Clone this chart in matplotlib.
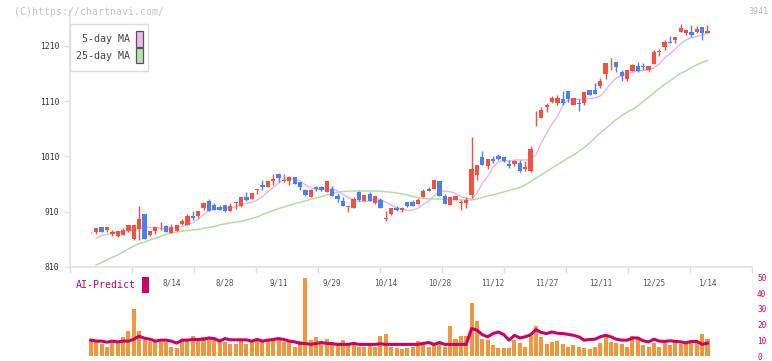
import numpy as np
import matplotlib
matplotlib.use("Agg")
import matplotlib.pyplot as plt
from matplotlib.patches import Rectangle

W, H = 772, 361

# daily candles
opens = [871, 874, 882, 877, 870, 866, 868, 875, 860, 878, 906, 867, 875, 882, 884, 872, 876, 887, 886, 902,
         902, 916, 929, 923, 919, 922, 912, 926, 921, 937, 933, 950, 958, 955, 966, 978, 966, 966, 973, 963,
         949, 936, 954, 954, 946, 951, 939, 930, 918, 917, 946, 930, 942, 926, 931, 897, 905, 916, 913, 927,
         927, 924, 936, 952, 952, 966, 939, 923, 931, 925, 926, 940, 977, 1009, 993, 1006, 1011, 1009, 997, 996,
         998, 987, 983, 1081, 1079, 1099, 1109, 1107, 1114, 1129, 1103, 1107, 1106, 1130, 1130, 1138, 1159, 1182, 1181, 1163,
         1151, 1165, 1174, 1174, 1167, 1178, 1199, 1208, 1217, 1220, 1236, 1234, 1236, 1235, 1244, 1233]
highs = [872.5, 880, 882, 882, 877, 875, 880, 886, 886, 920, 906, 875, 882, 891, 886, 888, 886, 896, 906, 911,
         911, 926, 933, 925, 922, 922, 926, 928, 937, 945, 944, 951, 967, 966, 978, 980, 978, 975, 973, 963,
         952, 951, 957, 957, 966, 957, 943, 936, 921, 937, 948, 940, 946, 939, 934, 911, 917, 920, 919, 927,
         931, 934, 951, 955, 968, 966, 942, 937, 939, 931, 936, 1046, 995, 1019, 1006, 1010, 1015, 1009, 1004, 1004,
         1004, 1001, 1029, 1093, 1100, 1106, 1120, 1121, 1129, 1129, 1115, 1114, 1127, 1130, 1143, 1152, 1180, 1189, 1181, 1167,
         1167, 1178, 1181, 1180, 1174, 1203, 1205, 1221, 1228, 1227, 1250, 1240, 1248, 1246, 1244, 1248]
lows = [871, 869, 874, 874, 866, 864, 868, 873, 858, 858, 860, 866, 870, 877, 873, 872, 875, 886, 886, 895,
        898, 913, 912, 913, 913, 910, 912, 915, 919, 930, 933, 942, 949, 955, 958, 964, 964, 958, 960, 949,
        939, 936, 948, 948, 946, 939, 928, 920, 910, 917, 930, 930, 929, 924, 917, 894, 904, 912, 910, 919,
        920, 924, 936, 948, 951, 939, 924, 923, 931, 913, 916, 934, 968, 994, 987, 999, 1004, 1000, 989, 992,
        981, 984, 982, 1066, 1079, 1091, 1106, 1103, 1103, 1109, 1103, 1093, 1103, 1121, 1123, 1134, 1150, 1167, 1162, 1147,
        1147, 1165, 1162, 1167, 1164, 1178, 1191, 1203, 1215, 1215, 1236, 1230, 1227, 1233, 1220, 1233]
closes = [872, 880, 874, 882, 874, 875, 877, 886, 886, 897, 861, 875, 882, 883, 873, 882, 886, 893, 902, 898,
          911, 926, 912, 913, 914, 912, 920, 927, 937, 931, 944, 951, 955, 966, 969, 971, 968, 973, 960, 955,
          940, 949, 951, 950, 966, 939, 933, 920, 920, 933, 931, 940, 930, 939, 917, 899, 917, 913, 917, 920,
          920, 931, 948, 948, 968, 939, 924, 937, 939, 928, 931, 987, 995, 995, 1006, 1002, 1006, 1001, 992, 1002,
          983, 991, 1024, 1082, 1094, 1103, 1115, 1116, 1107, 1114, 1115, 1105, 1127, 1121, 1123, 1147, 1180, 1183, 1171, 1155,
          1167, 1175, 1165, 1171, 1174, 1199, 1201, 1217, 1215, 1227, 1242, 1239, 1229, 1240, 1234, 1237]

# moving averages as drawn on the chart
ma5 = [np.nan, 862.0, 867.4, 868.5, 871.0, 873.4, 873.9, 875.7, 878.3, 880.1, 881.9, 881.9, 881.9, 879.4, 878.3, 879.4,
       881.9, 883.0, 886.6, 890.2, 896.4, 904.2, 911.9, 915.6, 916.3, 917.4, 916.8, 919.2, 922.2, 925.3, 926.8, 931.3,
       937.3, 946.3, 953.6, 961.5, 967.5, 969.3, 969.3, 965.7, 958.5, 953.6, 951.2, 951.2, 951.2, 951.2, 947.6, 941.6,
       936.2, 931.3, 928.2, 928.2, 929.5, 933.1, 932.2, 927.1, 922.2, 917.4, 914.5, 912.7, 912.7, 916.3, 923.5, 929.5,
       938.5, 946.3, 947.6, 946.3, 943.4, 937.3, 934.4, 932.6, 943.4, 961.5, 973.5, 990.5, 1000.1, 1001.9, 1001.9, 1003.7,
       1003.7, 1003.7, 1003.7, 1012.8, 1034.5, 1052.6, 1068.9, 1081.5, 1103.3, 1111.4, 1113.2, 1113.6, 1113.2, 1115.0, 1115.9, 1119.5,
       1130.4, 1142.2, 1152.1, 1156.6, 1160.3, 1162.1, 1164.8, 1165.7, 1166.6, 1170.2, 1177.5, 1188.3, 1195.6, 1204.6, 1213.7, 1220.9,
       1224.5, 1227.2, 1229.9, 1233.0]
ma25 = [np.nan, 813.7, 818.2, 822.7, 827.6, 831.8, 837.2, 842.6, 848.0, 852.2, 855.3, 858.9, 862.0, 865.2, 868.9, 871.6,
        873.4, 874.7, 876.1, 877.0, 877.9, 880.1, 881.5, 883.3, 886.1, 887.9, 889.7, 891.5, 892.4, 895.1, 897.8, 900.5,
        905.1, 908.7, 912.3, 915.6, 918.6, 921.7, 924.6, 927.1, 929.5, 932.6, 934.9, 937.6, 940.4, 943.1, 945.2, 946.7,
        947.2, 947.6, 947.6, 947.6, 947.6, 947.6, 947.0, 946.1, 945.2, 944.0, 942.2, 940.4, 937.6, 935.8, 934.4, 933.1,
        933.1, 932.7, 932.6, 932.2, 931.9, 931.3, 931.3, 931.3, 933.1, 935.8, 938.5, 940.4, 943.1, 945.8, 948.5, 951.2,
        953.9, 958.5, 963.9, 971.1, 976.6, 982.9, 989.2, 994.7, 1001.0, 1007.3, 1012.8, 1019.1, 1026.3, 1034.5, 1043.5, 1052.6,
        1060.7, 1068.9, 1077.0, 1083.3, 1090.6, 1095.1, 1101.4, 1109.6, 1116.8, 1125.0, 1133.1, 1140.4, 1146.7, 1153.9, 1160.6, 1164.8,
        1171.1, 1175.7, 1180.2, 1183.4]

# AI-Predict panel
ai_bars = [11, 8.6, 7.4, 6, 8.6, 8.6, 12.4, 16, 30, 16, 10, 8.6, 10, 8.6, 8.6, 6, 5.4, 10, 10, 13,
           11, 12.4, 11, 10, 8.6, 8.6, 7.4, 7.4, 10, 7.4, 10, 11,
           8.6, 10, 11, 10, 8.6, 8.6, 6, 9.5, 49.5, 10, 11.8, 8.6, 11, 8.6, 7.4, 10, 7.4, 8.6, 6, 6,
           7.4, 6, 13, 14.3, 6, 5.4, 4.2, 4.8, 6, 9.5, 8.6, 6, 7.4, 8.6, 6, 19.4, 11, 13, 13, 34,
           22, 11, 10, 7, 5.4, 4.8, 5.4, 10, 8,
           6, 13, 19.4, 11.8, 7.4, 8.6, 9.5, 7.4, 6, 7, 6, 5.4, 4.2, 6, 8, 13, 8.6, 8, 7.4, 6,
           13, 12.4, 7, 6, 8, 6, 8.6, 7, 8.6, 7.4, 7.4, 8, 9.5, 13.8, 11]
ai_line = [10.1, 9.5, 9.5, 8.8, 9.5, 9.0, 9.5, 9.5, 10.7, 12.6, 11.3, 10.7, 9.5, 10.1, 10.1, 9.5, 8.2, 10.1, 10.1, 10.5,
           10.5, 10.7, 11.5, 11.1, 9.5, 11.1, 10.3, 10.3, 10.3, 10.3, 9.5, 10.5,
           9.5, 10.1, 10.5, 11.1, 10.5, 9.5, 9.0, 8.0, 8.0, 7.4, 8.0, 8.6, 8.0, 7.8, 7.4, 7.4, 7.4, 8.0, 7.4, 7.4,
           7.4, 7.4, 7.8, 7.4, 7.4, 7.4, 7.4, 7.4, 7.4, 7.4, 8.0, 8.6, 7.4, 8.6, 7.4, 7.4, 7.4, 7.4, 7.4, 17.5,
           16.5, 13.6, 12.2, 14.3, 15.3, 13.6, 10.1, 13.2, 11.5,
           12.2, 13.6, 16.8, 15.0, 14.3, 15.3, 14.5, 14.3, 13.8, 13.2, 12.2, 10.1, 10.5, 10.7, 12.2, 13.2, 12.2, 10.7, 10.1, 10.1,
           11.5, 11.5, 9.7, 9.0, 10.7, 9.5, 9.3, 9.7, 9.3, 9.0, 8.4, 9.3, 9.3, 7.4, 8.2]

date_labels = ['8/14', '8/28', '9/11', '9/29', '10/14', '10/28', '11/12', '11/27', '12/11', '12/25', '1/14']
date_pos = [15, 25, 35, 45, 55, 65, 75, 85, 95, 105, 115]
price_ticks = [810, 910, 1010, 1110, 1210]
ai_ticks = [0, 10, 20, 30, 40, 50]

RED = '#f25040'
BLUE = '#4a7ff0'
PINK = '#e8b4ec'
GREEN = '#b4dca8'
MAG = '#cc0066'
ORANGE = '#f2963e'
MONO = 'DejaVu Sans Mono'

def fx(x):
    return x / W

def fy(y):
    return 1 - y / H

fig = plt.figure(figsize=(W / 100, H / 100), dpi=100)
ax2 = fig.add_axes([fx(70), fy(356), fx(752) - fx(70), fy(277.5) - fy(356)])
ax = fig.add_axes([fx(70), fy(267), fx(752) - fx(70), fy(10) - fy(267)])
ax.patch.set_alpha(0)
ax2.patch.set_alpha(0)

x = np.arange(len(opens))
o = np.array(opens, float)
c = np.array(closes, float)
up = c >= o
cols = np.where(up, RED, BLUE)

ax.plot(x, ma25, color=GREEN, lw=1.1, zorder=1)
ax.plot(x, ma5, color=PINK, lw=1.0, zorder=1)
ax.vlines(x, lows, highs, colors=cols, lw=1.0, zorder=2)
body = np.maximum(np.abs(c - o), 1.2)
ax.bar(x, body, bottom=np.minimum(o, c), width=0.8, color=cols, zorder=3)

xlim = (-3.9, 123.3)
ax.set_xlim(*xlim)
ax.set_ylim(810, 1275)
for s in ['top', 'right']:
    ax.spines[s].set_visible(False)
for s in ['left', 'bottom']:
    ax.spines[s].set_color('#e2e2e2')
    ax.spines[s].set_linewidth(1.2)

ax.set_yticks(price_ticks)
ax.set_yticklabels([str(p) for p in price_ticks], fontsize=5.8, family=MONO, color='#333333')
ax.tick_params(axis='y', length=4.3, width=1, color='#dddddd', pad=3.2)

ax.set_xticks(date_pos)
ax.set_xticklabels(date_labels, fontsize=5.6, family=MONO, color='#555555')
ax.tick_params(axis='x', which='major', length=0, pad=8.5)
ax.set_xticks(np.linspace(xlim[0], xlim[1], 12), minor=True)
ax.tick_params(axis='x', which='minor', length=4.3, width=1, color='#dddddd')

# lower panel
ax2.bar(x, ai_bars, width=0.75, color=ORANGE, zorder=1)
ax2.plot(x, ai_line, color=MAG, lw=2.2, zorder=2)
ax2.set_xlim(*xlim)
ax2.set_ylim(0, 50)
for s in ax2.spines.values():
    s.set_visible(False)
ax2.set_xticks([])
ax2.yaxis.tick_right()
ax2.set_yticks(ai_ticks)
ax2.set_yticklabels([str(t) for t in ai_ticks], fontsize=5.6, family=MONO, color=MAG)
ax2.tick_params(axis='y', length=0, pad=3.6)
for lab in ax2.get_yticklabels():
    lab.set_verticalalignment('center_baseline')

# header texts
fig.text(fx(14), fy(12), '(C)https://chartnavi.com/', fontsize=7.1, family=MONO,
         color='#c4c4c4', va='center', ha='left')
fig.text(fx(768), fy(12), '3941', fontsize=6, family=MONO, color='#bbbbbb', va='center', ha='right')

# legend box
fig.add_artist(Rectangle((fx(70), fy(71.3)), fx(148.3) - fx(70), fy(24) - fy(71.3),
                         transform=fig.transFigure, facecolor='white', edgecolor='#dddddd', lw=1, zorder=5))
fig.add_artist(Rectangle((fx(136.3), fy(46.7)), fx(142.7) - fx(136.3), fy(31) - fy(46.7),
                         transform=fig.transFigure, facecolor='#f0b8f0', edgecolor='#555555', lw=0.9, zorder=6))
fig.add_artist(Rectangle((fx(136.3), fy(63.3)), fx(142.7) - fx(136.3), fy(48.3) - fy(63.3),
                         transform=fig.transFigure, facecolor='#b8e0b0', edgecolor='#555555', lw=0.9, zorder=6))
fig.text(fx(130.5), fy(38.5), '5-day MA', fontsize=7.2, family=MONO, color='#444444',
         va='center', ha='right', zorder=7)
fig.text(fx(130.5), fy(56), '25-day MA', fontsize=7.2, family=MONO, color='#444444',
         va='center', ha='right', zorder=7)

# AI-Predict label
fig.text(fx(75.5), fy(285), 'AI-Predict', fontsize=7.1, family=MONO, color=MAG, va='center', ha='left')
fig.add_artist(Rectangle((fx(142.3), fy(292.7)), fx(149) - fx(142.3), fy(276.7) - fy(292.7),
                         transform=fig.transFigure, facecolor=MAG, edgecolor='none'))

fig.savefig('out.png', dpi=100, facecolor='white')
